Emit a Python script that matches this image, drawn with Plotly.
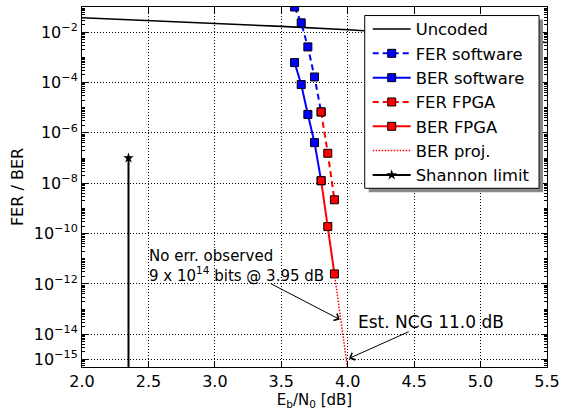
import plotly.graph_objects as go

# ---- data ----
unc_x = [2.0, 2.5, 3.0, 3.5, 4.0, 4.5, 5.0, 5.5]
unc_y = [3.75e-2, 2.9e-2, 2.3e-2, 1.7e-2, 1.25e-2, 8.8e-3, 6.0e-3, 3.9e-3]

sw_x = [3.60, 3.65, 3.70, 3.75, 3.80]
fer_sw = [1.0e-1, 2.35e-2, 2.6e-3, 1.66e-4, 6.8e-6]
ber_sw = [6.2e-4, 8.3e-5, 5.4e-6, 4.1e-7, 1.26e-8]

fpga_x = [3.80, 3.85, 3.90]
fer_fpga = [6.8e-6, 1.55e-7, 2.2e-9]
ber_fpga = [1.26e-8, 1.9e-10, 2.5e-12]

proj_x = [3.90, 3.95, 4.00]
proj_y = [2.5e-12, 4.0e-14, 4.0e-16]

shannon_x = [2.35, 2.35]
shannon_y = [1.0e-7, 1.0e-20]

ytick_exp = [-2, -4, -6, -8, -10, -12, -14, -15]
xticks = [2.0, 2.5, 3.0, 3.5, 4.0, 4.5, 5.0, 5.5]

FONT = "DejaVu Sans"
BLUE = "#0000ff"
RED = "#ff0000"

fig = go.Figure()
fig.add_trace(go.Scatter(x=unc_x, y=unc_y, mode="lines", name="Uncoded",
                         line=dict(color="black", width=1.6)))
fig.add_trace(go.Scatter(x=sw_x, y=fer_sw, mode="lines+markers", name="FER software",
                         line=dict(color=BLUE, width=2, dash="6px,4px"),
                         marker=dict(symbol="square", size=8, color=BLUE,
                                     line=dict(color="black", width=1))))
fig.add_trace(go.Scatter(x=sw_x, y=ber_sw, mode="lines+markers", name="BER software",
                         line=dict(color=BLUE, width=2),
                         marker=dict(symbol="square", size=8, color=BLUE,
                                     line=dict(color="black", width=1))))
fig.add_trace(go.Scatter(x=fpga_x, y=fer_fpga, mode="lines+markers", name="FER FPGA",
                         line=dict(color=RED, width=2, dash="6px,4px"),
                         marker=dict(symbol="square", size=8, color=RED,
                                     line=dict(color="black", width=1))))
fig.add_trace(go.Scatter(x=fpga_x, y=ber_fpga, mode="lines+markers", name="BER FPGA",
                         line=dict(color=RED, width=2),
                         marker=dict(symbol="square", size=8, color=RED,
                                     line=dict(color="black", width=1))))
fig.add_trace(go.Scatter(x=proj_x, y=proj_y, mode="lines", name="BER proj.",
                         line=dict(color=RED, width=1.5, dash="1.5px,1.5px")))
fig.add_trace(go.Scatter(x=shannon_x, y=shannon_y, mode="lines+markers", name="Shannon limit",
                         line=dict(color="black", width=2),
                         marker=dict(symbol="star", size=8, color="black")))

# minor tick positions (log axis)
minor_vals = []
for e in range(-16, 0):
    for m in range(1, 10):
        if m == 1 and e in ytick_exp:
            continue
        minor_vals.append(m * 10.0 ** e)

fig.update_layout(
    width=566, height=412,
    margin=dict(l=82, r=17, t=6, b=44),
    paper_bgcolor="white", plot_bgcolor="white",
    font=dict(family=FONT, size=16, color="black"),
    showlegend=True,
    legend=dict(x=0.6144, y=0.9865, xanchor="left", yanchor="top",
                bgcolor="rgba(0,0,0,0)", borderwidth=0,
                font=dict(family=FONT, size=16.4), itemwidth=38),
    xaxis=dict(range=[2.0, 5.5], tickvals=xticks,
               ticktext=[f"{v:.1f}" for v in xticks],
               ticks="inside", ticklen=6, tickcolor="black",
               showline=True, linecolor="black", linewidth=1, mirror="allticks",
               showgrid=True, gridcolor="black", griddash="1px,2px", gridwidth=1,
               zeroline=False,
               title=dict(text="E<sub>b</sub>/N<sub>0</sub> [dB]", standoff=4,
                          font=dict(size=15))),
    yaxis=dict(type="log", range=[-15.30, -1.0],
               tickvals=[10.0 ** e for e in ytick_exp],
               ticktext=[f"10<sup>\u2212{-e}</sup>" for e in ytick_exp],
               ticks="inside", ticklen=6, tickcolor="black",
               minor=dict(tickvals=minor_vals, ticks="inside", ticklen=3,
                          tickcolor="black", showgrid=False),
               showline=True, linecolor="black", linewidth=1, mirror="allticks",
               showgrid=True, gridcolor="black", griddash="1px,2px", gridwidth=1,
               zeroline=False,
               title=dict(text="FER / BER", standoff=6, font=dict(size=16))),
)

# legend frame with shadow (matplotlib-style)
fig.add_shape(type="rect", xref="paper", yref="paper", layer="above",
              x0=0.6166, x1=0.9914, y0=0.4853, y1=0.9653,
              fillcolor="#888888", line=dict(width=0))
fig.add_shape(type="rect", xref="paper", yref="paper", layer="above",
              x0=0.608, x1=0.9829, y0=0.4964, y1=0.9763,
              fillcolor="white", line=dict(color="black", width=1))

# annotations (log axis -> y given as log10)
fig.add_annotation(x=2.49, y=-10.45, xref="x", yref="y",
                   text="No err. observed<br>9 x 10<sup>14</sup> bits @ 3.95 dB",
                   showarrow=False, xanchor="left", yanchor="top", align="left",
                   font=dict(family=FONT, size=15))
fig.add_annotation(x=3.94, y=-13.41, ax=3.41, ay=-11.96,
                   xref="x", yref="y", axref="x", ayref="y", text="",
                   showarrow=True, arrowhead=4, arrowwidth=1, arrowsize=1.5,
                   arrowcolor="black")
fig.add_annotation(x=4.06, y=-13.5, xref="x", yref="y",
                   text="Est. NCG 11.0 dB", showarrow=False,
                   xanchor="left", yanchor="middle",
                   font=dict(family=FONT, size=17))
fig.add_annotation(x=4.01, y=-14.96, ax=4.47, ay=-13.87,
                   xref="x", yref="y", axref="x", ayref="y", text="",
                   showarrow=True, arrowhead=4, arrowwidth=1, arrowsize=1.5,
                   arrowcolor="black")

fig.write_html("out.html", config={"displayModeBar": False},
               post_script="document.body.style.margin='0px';")
